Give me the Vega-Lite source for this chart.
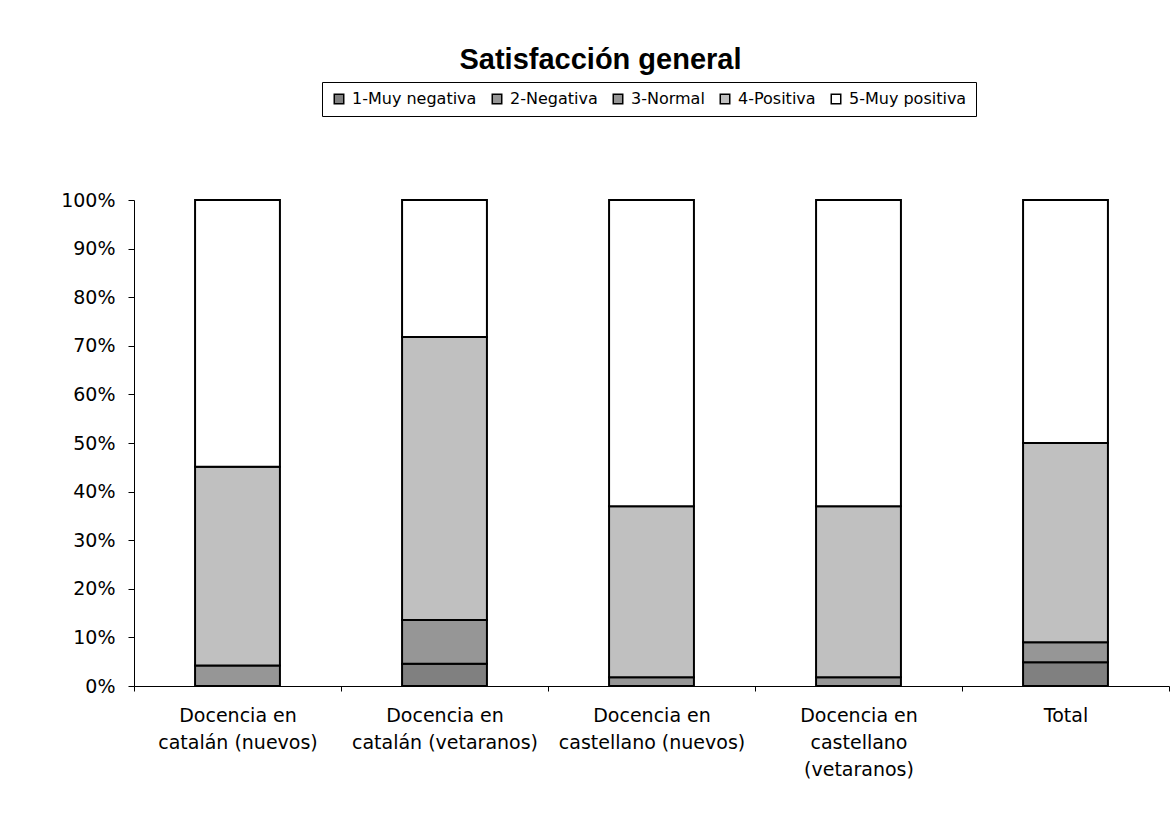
{
  "$schema": "https://vega.github.io/schema/vega-lite/v6.json",
  "width": 1035,
  "height": 486,
  "autosize": "none",
  "padding": {"left": 134, "top": 200, "right": 5, "bottom": 130},
  "background": "white",
  "title": {
    "text": "Satisfacción general",
    "font": "Liberation Sans",
    "fontSize": 29,
    "fontWeight": "bold",
    "color": "black",
    "anchor": "middle",
    "dx": -51,
    "offset": 7
  },
  "data": {
    "values": [
      {"grupo": "Docencia en catalán (nuevos)", "cat": "2-Negativa", "k": 2, "pct": 4.2},
      {"grupo": "Docencia en catalán (nuevos)", "cat": "4-Positiva", "k": 4, "pct": 40.9},
      {"grupo": "Docencia en catalán (nuevos)", "cat": "5-Muy positiva", "k": 5, "pct": 54.9},
      {"grupo": "Docencia en catalán (vetaranos)", "cat": "1-Muy negativa", "k": 1, "pct": 4.6},
      {"grupo": "Docencia en catalán (vetaranos)", "cat": "2-Negativa", "k": 2, "pct": 9.0},
      {"grupo": "Docencia en catalán (vetaranos)", "cat": "4-Positiva", "k": 4, "pct": 58.2},
      {"grupo": "Docencia en catalán (vetaranos)", "cat": "5-Muy positiva", "k": 5, "pct": 28.2},
      {"grupo": "Docencia en castellano (nuevos)", "cat": "2-Negativa", "k": 2, "pct": 1.8},
      {"grupo": "Docencia en castellano (nuevos)", "cat": "4-Positiva", "k": 4, "pct": 35.2},
      {"grupo": "Docencia en castellano (nuevos)", "cat": "5-Muy positiva", "k": 5, "pct": 63.0},
      {"grupo": "Docencia en castellano (vetaranos)", "cat": "2-Negativa", "k": 2, "pct": 1.8},
      {"grupo": "Docencia en castellano (vetaranos)", "cat": "4-Positiva", "k": 4, "pct": 35.2},
      {"grupo": "Docencia en castellano (vetaranos)", "cat": "5-Muy positiva", "k": 5, "pct": 63.0},
      {"grupo": "Total", "cat": "1-Muy negativa", "k": 1, "pct": 4.9},
      {"grupo": "Total", "cat": "2-Negativa", "k": 2, "pct": 4.1},
      {"grupo": "Total", "cat": "4-Positiva", "k": 4, "pct": 41.0},
      {"grupo": "Total", "cat": "5-Muy positiva", "k": 5, "pct": 50.0}
    ]
  },
  "mark": {"type": "bar", "stroke": "black", "strokeWidth": 2, "width": {"band": 0.41}},
  "encoding": {
    "x": {
      "field": "grupo",
      "type": "nominal",
      "sort": null,
      "scale": {"paddingInner": 0, "paddingOuter": 0},
      "axis": {
        "title": null,
        "labelAngle": 0,
        "labelFont": "DejaVu Sans",
        "labelFontSize": 19,
        "labelColor": "black",
        "labelPadding": 15,
        "labelLineHeight": 27,
        "labelLimit": 0,
        "labelOverlap": false,
        "tickBand": "extent",
        "tickSize": 5,
        "tickColor": "black",
        "domainColor": "black",
        "labelExpr": "datum.value == 'Docencia en catalán (nuevos)' ? ['Docencia en', 'catalán (nuevos)'] : datum.value == 'Docencia en catalán (vetaranos)' ? ['Docencia en', 'catalán (vetaranos)'] : datum.value == 'Docencia en castellano (nuevos)' ? ['Docencia en', 'castellano (nuevos)'] : datum.value == 'Docencia en castellano (vetaranos)' ? ['Docencia en', 'castellano', '(vetaranos)'] : datum.value"
      }
    },
    "y": {
      "field": "pct",
      "type": "quantitative",
      "stack": "normalize",
      "scale": {"domain": [0, 1], "nice": false},
      "axis": {
        "title": null,
        "grid": false,
        "format": ".0%",
        "values": [0, 0.1, 0.2, 0.3, 0.4, 0.5, 0.6, 0.7, 0.8, 0.9, 1],
        "labelFont": "DejaVu Sans",
        "labelFontSize": 19,
        "labelColor": "black",
        "labelPadding": 13,
        "tickSize": 6,
        "tickColor": "black",
        "domainColor": "black"
      }
    },
    "color": {
      "field": "cat",
      "type": "nominal",
      "scale": {
        "domain": ["1-Muy negativa", "2-Negativa", "3-Normal", "4-Positiva", "5-Muy positiva"],
        "range": ["#808080", "#969696", "#969696", "#c0c0c0", "#ffffff"]
      },
      "legend": {
        "title": null,
        "orient": "none",
        "direction": "horizontal",
        "legendX": 188,
        "legendY": -118,
        "strokeColor": "black",
        "fillColor": "white",
        "padding": 9,
        "symbolType": "square",
        "symbolSize": 90,
        "symbolStrokeColor": "black",
        "symbolStrokeWidth": 1.5,
        "labelFont": "DejaVu Sans",
        "labelFontSize": 16,
        "labelColor": "black",
        "labelOffset": 5,
        "columnPadding": 12,
        "symbolOpacity": 1
      }
    },
    "order": {"field": "k", "type": "quantitative"}
  },
  "config": {"view": {"stroke": null}}
}
